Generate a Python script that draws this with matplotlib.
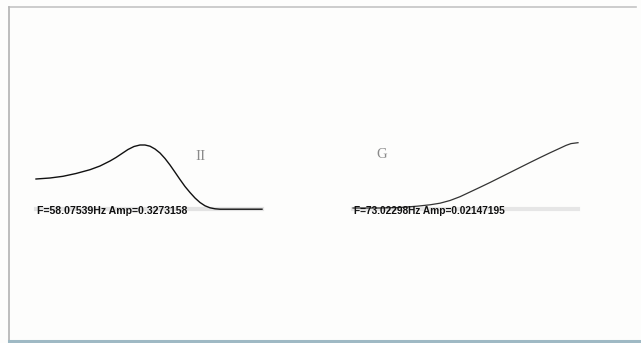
import numpy as np
import matplotlib.pyplot as plt

# traced waveforms, figure pixel units (x right, y down)
wave_h_x = [36, 50, 63, 76, 90, 100, 110, 116, 122, 128, 134, 140, 145, 150, 155, 160,
            165, 170, 175, 180, 185, 190, 195, 200, 205, 210, 215, 220, 262]
wave_h_y = [179, 178, 176.3, 173.5, 169.7, 166, 161, 157.5, 153.5, 149.5, 146.5, 145, 145, 146.2, 149, 153,
            158.5, 165, 172.2, 179.5, 186.5, 192.5, 198, 202.5, 205.8, 207.8, 208.8, 209.2, 209.2]
label_h = "F=58.07539Hz Amp=0.3273158"
mark_h = "II"

wave_g_x = [353, 380, 400, 417, 430, 440, 450, 460, 470, 480, 490, 500, 510, 520, 530,
            540, 550, 560, 566, 571, 578]
wave_g_y = [208, 208, 207.5, 206.2, 204.8, 203.2, 200.5, 196.7, 192, 187.3, 182.5, 177.5, 172.5, 167.5, 162.5,
            157.6, 152.8, 148.2, 145.4, 143.6, 142.7]
label_g = "F=73.02298Hz Amp=0.02147195"
mark_g = "G"

fig = plt.figure(figsize=(6.41, 3.43), dpi=100)
ax = fig.add_axes([0, 0, 1, 1])
ax.set_xlim(0, 641)
ax.set_ylim(343, 0)
ax.axis('off')
fig.patch.set_facecolor('#fdfdfc')

# frame
ax.plot([9, 636], [7, 7], color='#c4c4c4', lw=1.2)
ax.plot([9, 9], [7, 340], color='#b8b8b8', lw=1.3)
ax.plot([9, 641], [340.5, 340.5], color='#9fb9c4', lw=2.2)

# grey baseline strips behind the readouts
ax.plot([36, 262], [208.5, 208.5], color='#e3e3e3', lw=3)
ax.plot([353, 578], [208.5, 208.5], color='#e6e6e6', lw=3)

ax.plot(wave_h_x, wave_h_y, color='#111111', lw=1.0, solid_joinstyle='round')
ax.plot(wave_g_x, wave_g_y, color='#333333', lw=0.9, solid_joinstyle='round')

ax.text(37, 211, label_h, fontsize=7.6, fontweight='bold', family='Liberation Sans',
        va='center', ha='left', color='#111111')
ax.text(354, 211, label_g, fontsize=7.3, fontweight='bold', family='Liberation Sans',
        va='center', ha='left', color='#111111')

ax.text(201, 156, mark_h, fontsize=11, family='Liberation Serif', color='#8a8a8a',
        va='center', ha='center')
ax.text(382, 155, mark_g, fontsize=10.5, family='Liberation Serif', color='#8a8a8a',
        va='center', ha='center')

fig.savefig('out.png', dpi=100, facecolor=fig.get_facecolor())
